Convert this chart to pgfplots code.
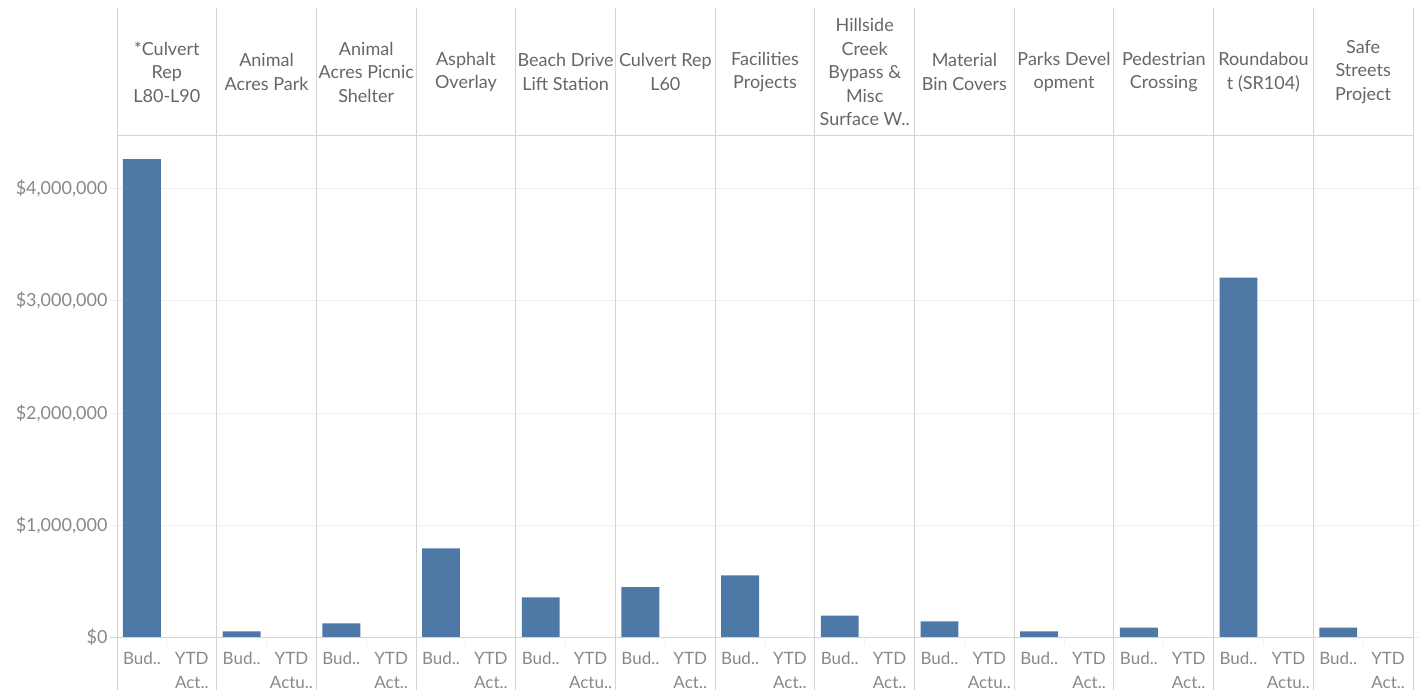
\documentclass[border=0pt]{standalone}
\usepackage{fontspec}
\setmainfont{Lato}
\usepackage{pgfplots}
\pgfplotsset{compat=1.18}
\definecolor{barc}{HTML}{4E79A7}
\definecolor{linec}{HTML}{D4D4D4}
\definecolor{gridc}{HTML}{F0F0F0}
\definecolor{hdrc}{HTML}{666666}
\definecolor{tickc}{HTML}{888888}
\tikzset{hdr/.style={align=center, font=\fontsize{18}{23.5}\selectfont, text=hdrc, anchor=center, inner sep=0pt}}
\begin{document}
\begin{tikzpicture}
\begin{axis}[
  scale only axis, width=1296pt, height=502.5pt,
  xmin=0, xmax=26, ymin=0, ymax=4475000,
  clip=false,
  axis line style={draw=none},
  major tick length=7pt, tick align=outside,
  xtick style={draw=none},
  ytick style={draw=gridc, line width=0.8pt},
  ymajorgrids, grid style={gridc, line width=0.8pt},
  ytick={0,1000000,2000000,3000000,4000000},
  yticklabels={{\$0},{\$1,000,000},{\$2,000,000},{\$3,000,000},{\$4,000,000}},
  yticklabel style={font=\fontsize{18}{21}\selectfont, text=tickc, xshift=1pt},
  scaled y ticks=false,
  xtick={0.5,1.5,...,25.5},
  xticklabels={{Bud..},{YTD\\Act..},{Bud..},{YTD\\Actu..},{Bud..},{YTD\\Act..},{Bud..},{YTD\\Act..},{Bud..},{YTD\\Actu..},{Bud..},{YTD\\Act..},{Bud..},{YTD\\Act..},{Bud..},{YTD\\Act..},{Bud..},{YTD\\Actu..},{Bud..},{YTD\\Act..},{Bud..},{YTD\\Act..},{Bud..},{YTD\\Actu..},{Bud..},{YTD\\Act..}},
  xticklabel style={font=\fontsize{17}{24}\selectfont, text=tickc, align=center, anchor=north, yshift=-4pt},
  ybar, bar width=0.76, bar shift=0pt,
]
% Budget
\addplot[fill=barc, draw=none] coordinates {
 (0.5,4260000) (2.5,54000) (4.5,125000) (6.5,795000) (8.5,358000) (10.5,448000)
 (12.5,554000) (14.5,196000) (16.5,143000) (18.5,54000) (20.5,89000) (22.5,3205000) (24.5,89000)};
% YTD Actual
\addplot[fill=barc, draw=none] coordinates {
 (1.5,0) (3.5,0) (5.5,0) (7.5,0) (9.5,0) (11.5,0)
 (13.5,0) (15.5,0) (17.5,0) (19.5,0) (21.5,0) (23.5,0) (25.5,0)};
% frame lines
\draw[linec, line width=0.9pt] (axis cs:-0.14,0) -- (axis cs:26,0);
\draw[linec, line width=0.9pt] (axis cs:0,4475000) -- (axis cs:26,4475000);
\pgfplotsinvokeforeach{0,2,...,26}{
  \draw[linec, line width=0.9pt] (axis cs:#1,-480000) -- (axis cs:#1,5606000);
}
\pgfplotsinvokeforeach{1,3,...,25}{
  \draw[gridc, line width=0.9pt] (axis cs:#1,0) -- (axis cs:#1,-72000);
}
% headers
\node[hdr] at (axis cs:1,5036000) {*Culvert\\Rep\\L80-L90};
\node[hdr] at (axis cs:3,5036000) {Animal\\Acres Park};
\node[hdr] at (axis cs:5,5036000) {Animal\\Acres Picnic\\Shelter};
\node[hdr] at (axis cs:7,5036000) {Asphalt\\Overlay};
\node[hdr] at (axis cs:9,5036000) {Beach Drive\\Lift Station};
\node[hdr] at (axis cs:11,5036000) {Culvert Rep\\L60};
\node[hdr] at (axis cs:13,5036000) {Facilities\\Projects};
\node[hdr] at (axis cs:15,5036000) {Hillside\\Creek\\Bypass \&\\Misc\\Surface W..};
\node[hdr] at (axis cs:17,5036000) {Material\\Bin Covers};
\node[hdr] at (axis cs:19,5036000) {Parks Devel\\opment};
\node[hdr] at (axis cs:21,5036000) {Pedestrian\\Crossing};
\node[hdr] at (axis cs:23,5036000) {Roundabou\\t (SR104)};
\node[hdr] at (axis cs:25,5036000) {Safe\\Streets\\Project};
\coordinate (BL) at (rel axis cs:-0.09028,-0.1025);
\coordinate (TR) at (rel axis cs:1.01003,1.2687);
\end{axis}
\pgfresetboundingbox
\useasboundingbox (BL) rectangle (TR);
\end{tikzpicture}
\end{document}
